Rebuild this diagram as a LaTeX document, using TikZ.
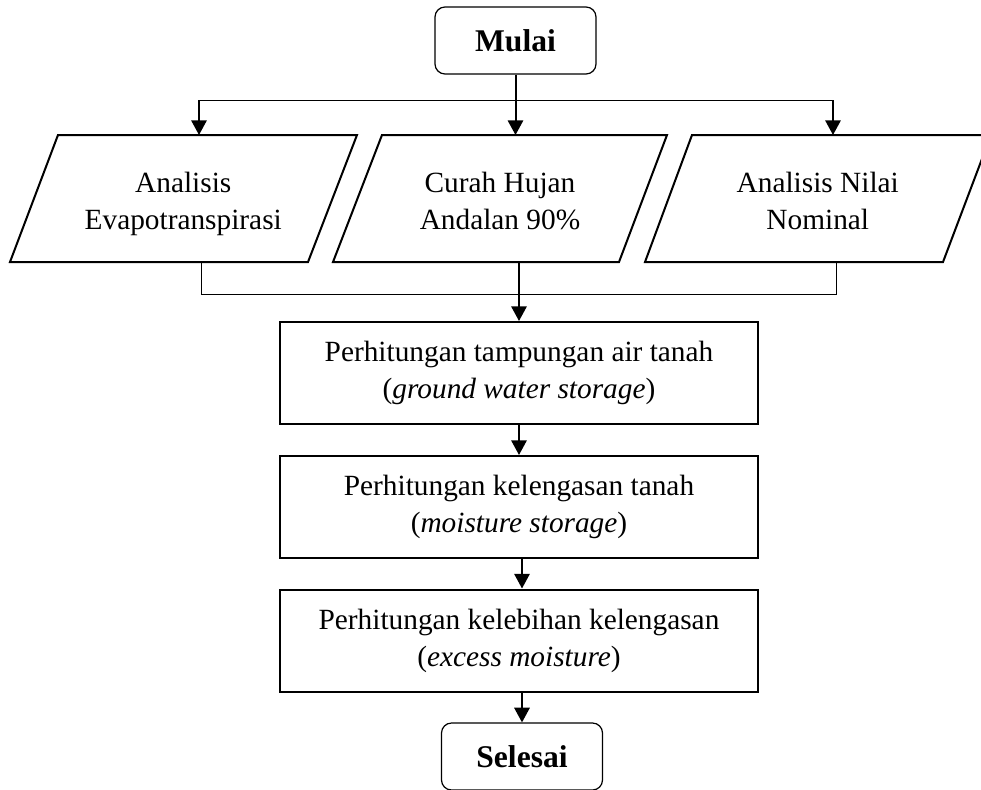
\documentclass[tikz,border=0pt]{standalone}
\usepackage{fontspec}
\setmainfont{Liberation Serif}
\usetikzlibrary{arrows.meta,calc}
\begin{document}
\begin{tikzpicture}[x=0.75pt,y=-0.75pt,
  thinln/.style={line width=0.75pt},
  arr/.style={line width=1.5pt,-{Triangle[length=11pt,width=11.5pt]}},
  term/.style={draw,line width=0.9pt,rounded corners=7.5pt,minimum width=120.75pt,minimum height=50.25pt,inner sep=0pt,font=\fontsize{23.7}{28}\selectfont\bfseries},
  procbox/.style={draw,line width=1.5pt,minimum width=358.5pt,minimum height=76.5pt,inner sep=0pt,align=center,font=\fontsize{22}{27.75}\selectfont},
  iotext/.style={inner sep=0pt,align=center,font=\fontsize{22}{27.75}\selectfont},
  para/.style={line width=1.5pt,line join=miter}]
\useasboundingbox (0,0) rectangle (981,789);

% terminals
\node[term] (mulai) at (515.5,40.5) {Mulai};
\node[term] (sel) at (522,756.5) {Selesai};

% input parallelograms
\draw[para] (58,135) -- (357,135) -- (308,262) -- (10,262) -- cycle;
\draw[para] (382,135) -- (667,135) -- (619,262) -- (333,262) -- cycle;
\draw[para] (692,135) -- (991,135) -- (943,262) -- (645,262) -- cycle;
\node[iotext] (p1) at (183.25,203.6) {\strut Analisis\\\strut Evapotranspirasi};
\node[iotext] (p2) at (500,203.6) {\strut Curah Hujan\\\strut Andalan 90\%};
\node[iotext] (p3) at (817.75,203.6) {\strut Analisis Nilai\\\strut Nominal};

\coordinate (p1in) at (199,135);
\coordinate (p2in) at (515.5,135);
\coordinate (p3in) at (833,135);
\coordinate (p1out) at (201,262);
\coordinate (p2out) at (519,262);
\coordinate (p3out) at (836,262);
\coordinate (t1) at (199,100);
\coordinate (t3) at (833,100);
\coordinate (b1) at (201,294);
\coordinate (b3) at (836,294);

% process boxes
\node[procbox] (box1) at (519,373) {\strut Perhitungan tampungan air tanah\\\strut(\textit{ground water storage})};
\node[procbox] (box2) at (519,507) {\strut Perhitungan kelengasan tanah\\\strut(\textit{moisture storage})};
\node[procbox] (box3) at (519,640.5) {\strut Perhitungan kelebihan kelengasan\\\strut(\textit{excess moisture})};

% connectors
\draw[thinln] (t1) -- (t3);
\draw[arr] (mulai.south) -- (p2in);
\draw[arr] (t1) -- (p1in);
\draw[arr] (t3) -- (p3in);
\draw[thinln] (p1out) -- (b1) -- (b3) -- (p3out);
\draw[arr] (p2out) -- (box1.north);
\draw[arr] (box1.south) -- (box2.north);
\draw[arr] (box2.south -| sel) -- (box3.north -| sel);
\draw[arr] (box3.south -| sel) -- (sel.north);
\end{tikzpicture}
\end{document}
